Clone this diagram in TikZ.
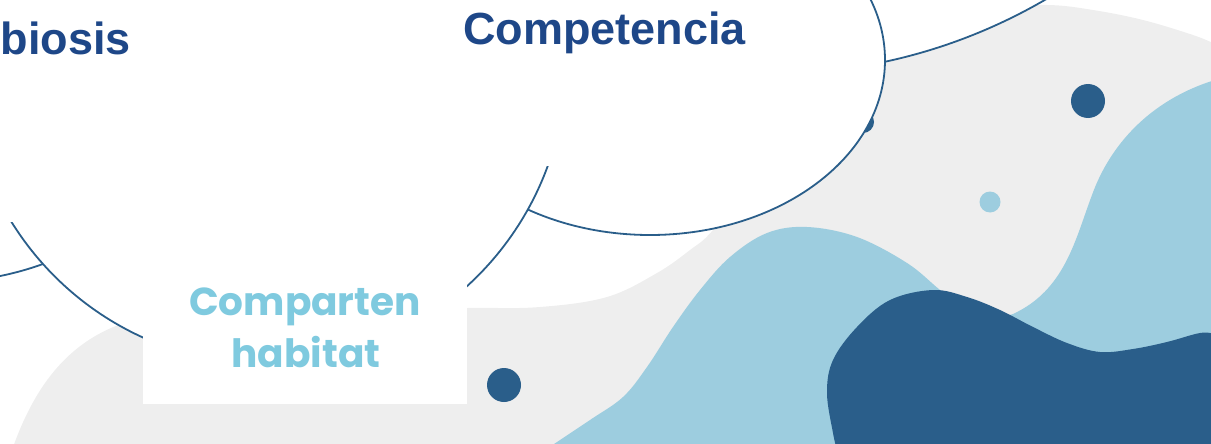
\documentclass[tikz,border=0pt]{standalone}
\usepackage{fontspec}
\setmainfont{Liberation Sans}
\newfontfamily\habfont{Poppins}
\usetikzlibrary{shapes.geometric}

\definecolor{graybg}{HTML}{EEEEEE}
\definecolor{wavelight}{HTML}{9DCDDF}
\definecolor{wavedark}{HTML}{2A5E8A}
\definecolor{cloudline}{HTML}{2A5E8A}
\definecolor{titleblue}{HTML}{1E4788}
\definecolor{habblue}{HTML}{7FCADF}

\tikzset{
    cloud/.style={ellipse, fill=white, draw=cloudline, line width=1.8pt, inner sep=0pt},
    panel/.style={rectangle, fill=white, inner sep=0pt, outer sep=0pt},
    title/.style={text=titleblue, inner sep=0pt, font=\fontsize{45}{54}\selectfont\bfseries},
    habtext/.style={text=habblue, inner sep=0pt, font=\habfont\fontsize{39}{46}\selectfont\bfseries},
}

\begin{document}
\begin{tikzpicture}[x=1pt, y=-1pt]
    \useasboundingbox (0,0) rectangle (1211,444);
    \clip (0,0) rectangle (1211,444);

    % Gray blob
    \fill[graybg] (12,450) .. controls (40,370) and (85,322) .. (170,313)
        -- plot[smooth, tension=0.6] coordinates {(170,313) (300,309) (467,308) (540,307) (607,297)
        (657,273) (690,250) (713,230) (760,170) (820,90) (900,30) (980,8) (1047,5) (1093,10)
        (1143,20) (1193,35) (1215,44)}
        -- (1215,450) -- cycle;

    % Light wave
    \fill[wavelight] plot[smooth, tension=0.6] coordinates {(545,450) (590,420) (623,397) (647,367)
        (673,327) (700,290) (730,257) (767,233) (807,227) (857,237) (907,263) (940,290)
        (975,318) (1013,314)}
        .. controls (1065,290) and (1075,240) .. (1092,195)
        .. controls (1110,145) and (1150,100) .. (1215,80)
        -- (1215,450) -- cycle;

    % Dark wave
    \fill[wavedark] plot[smooth, tension=0.6] coordinates {(837,450) (833,433) (827,393) (833,360)
        (857,327) (890,300) (933,290) (967,297) (1000,310) (1033,327) (1067,343)
        (1100,352) (1133,349) (1167,342) (1200,333) (1215,334)} -- (1215,450) -- cycle;

    % Dots
    \fill[wavedark] (1088,101) circle (17pt);
    \fill[wavelight] (990,202) circle (10.5pt);
    \fill[wavedark] (504,385) circle (17pt);
    \fill[wavedark] (863,122) circle (11pt);

    % Clouds
    \node[cloud, minimum width=1100pt, minimum height=1100pt] (cloudc) at (769,-476) {};
    \node[cloud, minimum width=470pt, minimum height=350pt] (cloudb) at (650,60) {};
    \node[cloud, minimum width=604pt, minimum height=604pt] (cloudd) at (-60,-20) {};
    \node[cloud, minimum width=600pt, minimum height=604pt] (clouda) at (266,62) {};

    % Panels
    \node[panel, minimum width=340pt, minimum height=222pt] (simpanel) at (165,111) {};
    \node[panel, minimum width=360pt, minimum height=166pt] (comppanel) at (620,83) {};
    \node[panel, minimum width=324pt, minimum height=139pt] (habpanel) at (305,334.5) {};

    % Texts
    \node[title, anchor=base east] (simtitle) at (131,55) {biosis};
    \node[title, anchor=base west] (comptitle) at (463,45) {Competencia};
    \node[habtext, anchor=base] (habone) at (305,315) {Comparten};
    \node[habtext, anchor=base] (habtwo) at (306,367) {habitat};
\end{tikzpicture}
\end{document}
